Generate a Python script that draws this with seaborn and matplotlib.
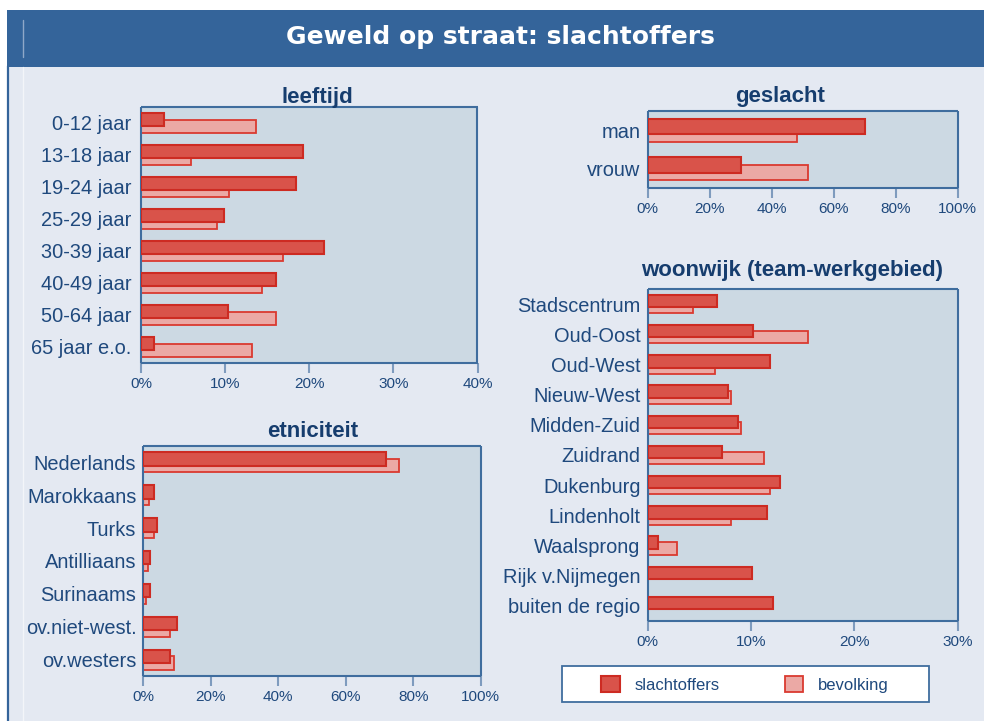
import numpy as np
import pandas as pd
import matplotlib
matplotlib.use("Agg")
import matplotlib.pyplot as plt
import seaborn as sns
from matplotlib.patches import Rectangle, Patch
from matplotlib.lines import Line2D

sns.set_theme(style="white")
plt.rcParams["font.family"] = ["Liberation Sans", "DejaVu Sans"]

# ---- data (percentages) ----
leeftijd_cat = ["0-12 jaar", "13-18 jaar", "19-24 jaar", "25-29 jaar",
                "30-39 jaar", "40-49 jaar", "50-64 jaar", "65 jaar e.o."]
leeftijd_slachtoffers = [2.7, 19.2, 18.4, 9.9, 21.8, 16.1, 10.3, 1.5]
leeftijd_bevolking = [13.7, 6.0, 10.5, 9.0, 16.9, 14.4, 16.1, 13.2]

geslacht_cat = ["man", "vrouw"]
geslacht_slachtoffers = [70.0, 30.0]
geslacht_bevolking = [48.1, 51.7]

wijk_cat = ["Stadscentrum", "Oud-Oost", "Oud-West", "Nieuw-West", "Midden-Zuid",
            "Zuidrand", "Dukenburg", "Lindenholt", "Waalsprong",
            "Rijk v.Nijmegen", "buiten de regio"]
wijk_slachtoffers = [6.7, 10.2, 11.9, 7.8, 8.8, 7.2, 12.8, 11.6, 1.0, 10.1, 12.1]
wijk_bevolking = [4.4, 15.5, 6.5, 8.1, 9.0, 11.3, 11.9, 8.1, 2.9, np.nan, np.nan]

etn_cat = ["Nederlands", "Marokkaans", "Turks", "Antilliaans", "Surinaams",
           "ov.niet-west.", "ov.westers"]
etn_slachtoffers = [71.9, 3.1, 4.0, 2.0, 2.0, 10.0, 7.9]
etn_bevolking = [75.7, 1.8, 3.1, 1.3, 0.9, 7.8, 9.2]

series_labels = ["slachtoffers", "bevolking"]

# ---- styling ----
BODY_BG = "#E4E9F2"
PLOT_BG = "#CCD9E3"
BAR_BLUE = "#34649A"
SPINE = "#3F6D9E"
NAVY = "#1F497D"
TITLE_NAVY = "#163D6E"
DARK_FILL, DARK_EDGE = "#D9534A", "#CD2B22"
LIGHT_FILL, LIGHT_EDGE = "#EBA9A5", "#DA3A30"
W, H = 984, 721

fig = plt.figure(figsize=(W / 100, H / 100), dpi=100)
fig.patch.set_facecolor("white")


def frac_rect(x0, y0, x1, y1):
    """pixel box (top-left origin) -> figure fraction rect"""
    return [x0 / W, 1 - y1 / H, (x1 - x0) / W, (y1 - y0) / H]


# page background, header band and frame lines
fig.add_artist(Rectangle((7 / W, 0), 1, 1 - 66.5 / H, transform=fig.transFigure,
                         facecolor=BODY_BG, edgecolor="none", zorder=-10))
fig.add_artist(Rectangle((7 / W, 1 - 66.5 / H), 1, (66.5 - 10) / H,
                         transform=fig.transFigure, facecolor=BAR_BLUE,
                         edgecolor="none", zorder=-9))
fig.add_artist(Line2D([7.8 / W, 7.8 / W], [0, 1 - 66 / H], transform=fig.transFigure,
                      color=BAR_BLUE, lw=1.6, zorder=-8))
fig.add_artist(Line2D([22.5 / W, 22.5 / W], [0, 1 - 67 / H], transform=fig.transFigure,
                      color="#F3F5F9", lw=1.0, zorder=-8))
fig.add_artist(Line2D([22.5 / W, 22.5 / W], [1 - 57 / H, 1 - 20 / H],
                      transform=fig.transFigure, color="#8FA8C8", lw=1.0, zorder=-8))
fig.text(500 / W, 1 - 37 / H, "Geweld op straat: slachtoffers", color="white",
         fontsize=18, fontweight="bold", ha="center", va="center",
         family=["DejaVu Sans"])


def panel(box, title, cats, slacht, bevolk, xmax, step, tx, ty, ypad):
    ax = fig.add_axes(frac_rect(*box))
    pos = np.arange(len(cats), dtype=float)
    df = pd.DataFrame({"pos": pos, "slachtoffers": slacht, "bevolking": bevolk})
    # population share behind, victims share in front, slightly overlapping
    sns.barplot(data=df.assign(y=df["pos"] + 0.1), x="bevolking", y="y",
                orient="h", native_scale=True, width=0.41, color=LIGHT_FILL,
                saturation=1, edgecolor=LIGHT_EDGE, linewidth=1.3,
                errorbar=None, ax=ax, zorder=2)
    sns.barplot(data=df.assign(y=df["pos"] - 0.1), x="slachtoffers", y="y",
                orient="h", native_scale=True, width=0.41, color=DARK_FILL,
                saturation=1, edgecolor=DARK_EDGE, linewidth=1.5,
                errorbar=None, ax=ax, zorder=3)
    ax.set_facecolor(PLOT_BG)
    ax.set_xlim(0, xmax)
    ax.set_ylim(len(cats) - 0.5, -0.5)
    ticks = np.arange(0, xmax + step / 2, step)
    ax.set_xticks(ticks, [f"{t:g}%" for t in ticks])
    ax.set_yticks(pos, cats)
    ax.set_xlabel("")
    ax.set_ylabel("")
    for s in ax.spines.values():
        s.set_visible(True)
        s.set_color(SPINE)
        s.set_linewidth(1.5)
        s.set_capstyle("butt")
    ax.tick_params(axis="x", bottom=True, length=7, width=1.5, color="#7E9BBE",
                   labelsize=11, labelcolor=NAVY, pad=3)
    ax.tick_params(axis="y", left=False, length=0, labelsize=14.4,
                   labelcolor=NAVY, pad=ypad)
    ax.text(tx, ty, title, transform=ax.transAxes, ha="center", va="center",
            fontsize=16, fontweight="bold", color=TITLE_NAVY)
    return ax


panel((141, 107, 477.5, 363), "leeftijd", leeftijd_cat, leeftijd_slachtoffers,
      leeftijd_bevolking, 40, 10, 0.524, 1.039, 7)
panel((647.5, 111, 957.5, 188), "geslacht", geslacht_cat, geslacht_slachtoffers,
      geslacht_bevolking, 100, 20, 0.427, 1.182, 5)
panel((647.5, 289, 957.5, 621), "woonwijk (team-werkgebied)", wijk_cat,
      wijk_slachtoffers, wijk_bevolking, 30, 10, 0.466, 1.057, 5)
panel((143.3, 446, 480.7, 676), "etniciteit", etn_cat, etn_slachtoffers,
      etn_bevolking, 100, 20, 0.503, 1.065, 5)

# legend box
lx0, ly0, lx1, ly1 = 562, 666, 929, 702
fig.add_artist(Rectangle((lx0 / W, 1 - ly1 / H), (lx1 - lx0) / W, (ly1 - ly0) / H,
                         transform=fig.transFigure, facecolor="white",
                         edgecolor=SPINE, lw=1.3, zorder=5))
handles = [Patch(facecolor=DARK_FILL, edgecolor=DARK_EDGE, lw=1.5),
           Patch(facecolor=LIGHT_FILL, edgecolor=LIGHT_EDGE, lw=1.3)]
leg = fig.legend(handles, series_labels, loc="center", ncol=2,
                 bbox_to_anchor=(745 / W, 1 - 684.5 / H), bbox_transform=fig.transFigure,
                 frameon=False, fontsize=12, handlelength=1.1, handleheight=1.05,
                 handletextpad=0.9, columnspacing=3.9, borderpad=0.2)
for t in leg.get_texts():
    t.set_color(NAVY)
leg.set_zorder(6)

fig.savefig("out.png", dpi=100)
